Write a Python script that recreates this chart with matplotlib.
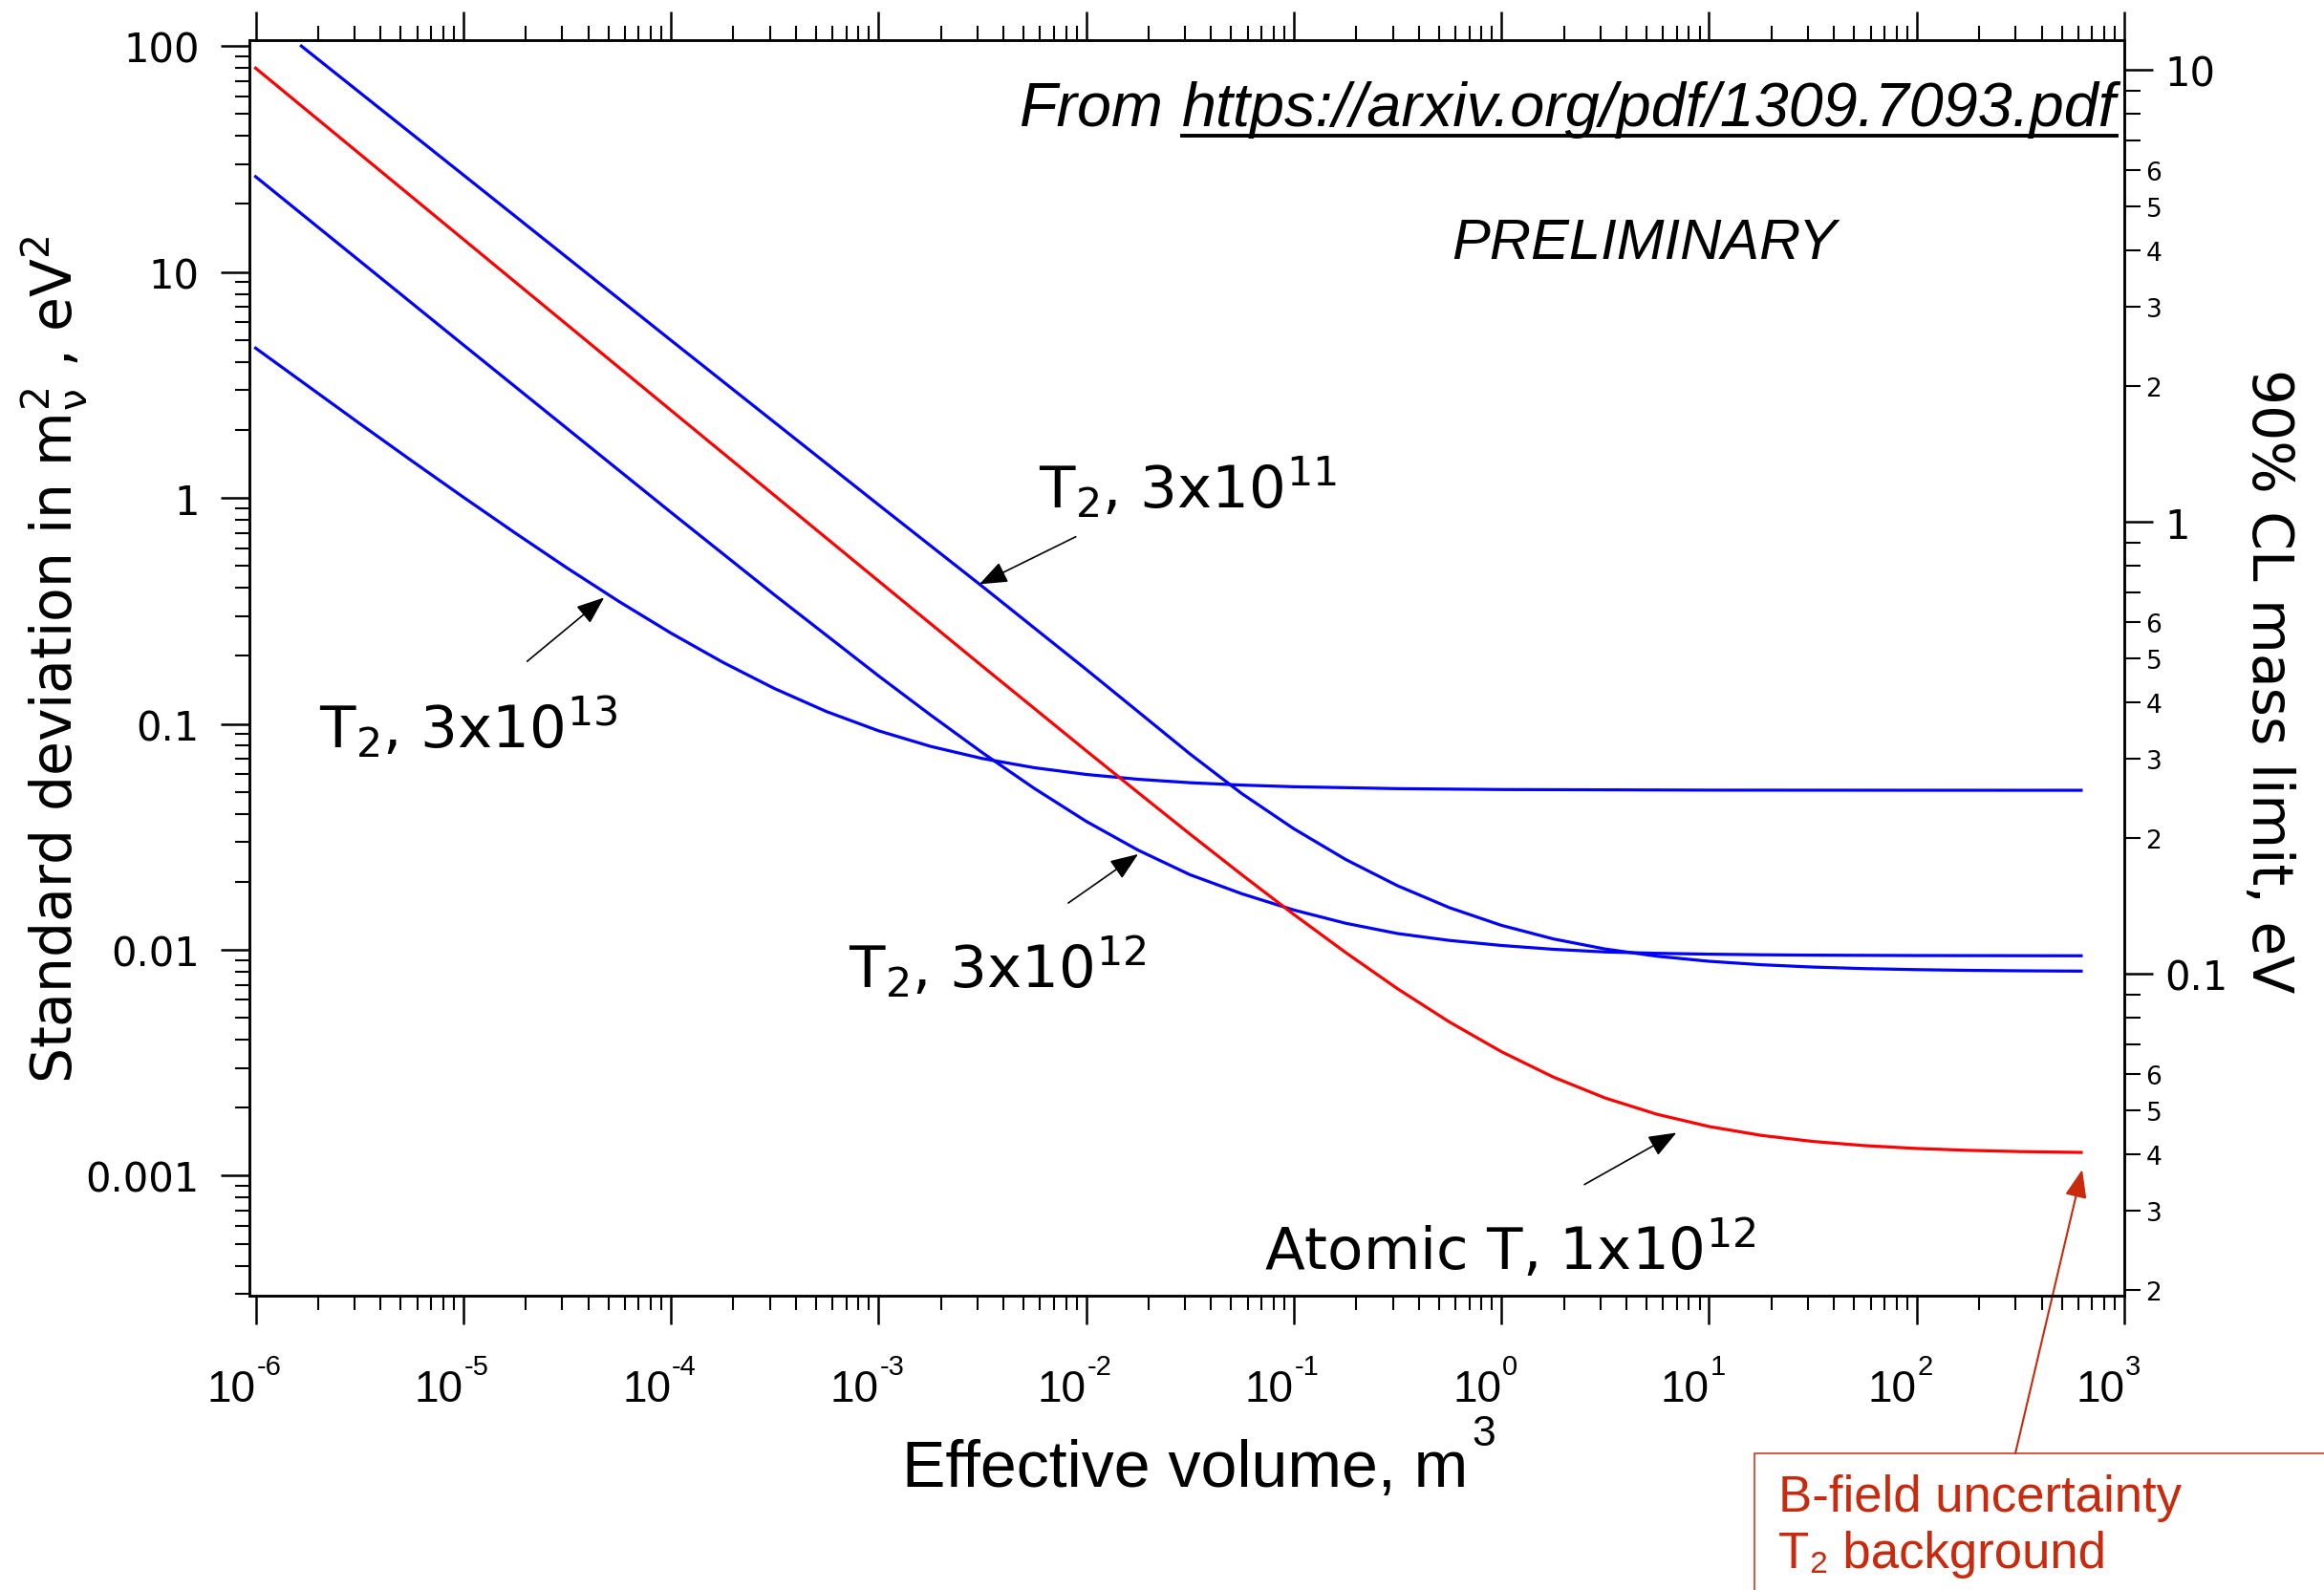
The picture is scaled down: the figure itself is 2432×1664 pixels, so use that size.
import numpy as np
import matplotlib
matplotlib.use("Agg")
import matplotlib.pyplot as plt
from matplotlib.ticker import FixedLocator, FixedFormatter, NullFormatter, FuncFormatter
from matplotlib.patches import Rectangle
from matplotlib.lines import Line2D

# =====================
# data (effective volume m^3, sigma(m^2) eV^2)
# =====================
V_t11 = [1.66e-6, 1e-5, 1e-4, 1e-3, 3.16e-3, 1e-2, 1.78e-2, 3.16e-2, 5.62e-2, 0.1,
         0.178, 0.316, 0.562, 1.0, 1.78, 3.16, 5.62, 10, 17.8, 31.6,
         56.2, 100, 178, 316, 620]
sig_t11 = [100.0, 26.90, 4.986, 0.9323, 0.4059, 0.1742, 0.1132, 0.07365, 0.04912, 0.03435,
           0.02509, 0.01921, 0.01536, 0.01283, 0.01117, 0.01008, 0.009364, 0.008895, 0.008587, 0.008385,
           0.008253, 0.008166, 0.008109, 0.008071, 0.008044]

V_t12 = [1e-6, 1e-5, 1e-4, 3.16e-4, 1e-3, 1.78e-3, 3.16e-3, 5.62e-3, 1e-2, 1.78e-2,
         3.16e-2, 5.62e-2, 0.1, 0.178, 0.316, 0.562, 1.0, 1.78, 3.16, 5.62,
         10, 17.8, 31.6, 100, 620]
sig_t12 = [26.41, 4.759, 0.8636, 0.3717, 0.1631, 0.1095, 0.07459, 0.05184, 0.03704, 0.02760,
           0.02150, 0.0177, 0.0150, 0.0131, 0.0118, 0.0110, 0.01045, 0.01005, 0.009779, 0.009647,
           0.009561, 0.009505, 0.009468, 0.009429, 0.009407]

V_t13 = [1e-6, 1.78e-6, 3.16e-6, 5.62e-6, 1e-5, 1.78e-5, 3.16e-5, 5.62e-5, 1e-4, 1.78e-4,
         3.16e-4, 5.62e-4, 1e-3, 1.78e-3, 3.16e-3, 5.62e-3, 1e-2, 1.78e-2, 3.16e-2, 5.62e-2,
         0.1, 0.316, 1.0, 10, 100, 620]
sig_t13 = [4.601, 3.134, 2.138, 1.464, 1.008, 0.6989, 0.4897, 0.3481, 0.2522, 0.1872,
           0.1432, 0.1133, 0.09316, 0.07949, 0.07023, 0.06396, 0.05971, 0.05684, 0.05489, 0.05357,
           0.05268, 0.05166, 0.05119, 0.05088, 0.05082, 0.0508]

V_atomic = [1e-6, 1e-5, 1e-4, 1e-3, 3.16e-3, 1e-2, 1.78e-2, 3.16e-2, 5.62e-2, 0.1,
            0.178, 0.316, 0.562, 1.0, 1.78, 3.16, 5.62, 10, 17.8, 31.6,
            56.2, 100, 178, 316, 620]
sig_atomic = [79.8, 13.96, 2.443, 0.4289, 0.1801, 0.07607, 0.04963, 0.03254, 0.02149, 0.01434,
              0.009719, 0.006725, 0.004791, 0.003541, 0.002732, 0.002208, 0.001870, 0.001651, 0.001509, 0.001418,
              0.001359, 0.001320, 0.001295, 0.001279, 0.001268]

x_decades = [-6, -5, -4, -3, -2, -1, 0, 1, 2, 3]
y_major = [1e-3, 1e-2, 1e-1, 1, 10, 100]
y_major_labels = ["0.001", "0.01", "0.1", "1", "10", "100"]
m_major = [0.1, 1, 10]
m_major_labels = ["0.1", "1", "10"]
CL_FACTOR = 1.28  # m^2 limit = 1.28 sigma

NARROW = ["Liberation Sans Narrow", "Liberation Sans", "DejaVu Sans"]
ARIAL = ["Liberation Sans", "DejaVu Sans"]
BLUE = "#0000ff"
RED = "#ff0000"
NOTE_RED = "#c82a0e"

W, H = 2432, 1665
PT = 100 / 72.0  # px per point

# =====================
# figure / axes
# =====================
fig = plt.figure(figsize=(W / 100, H / 100), dpi=100)
ax = fig.add_axes([261 / W, 1 - 1357 / H, (2223 - 261) / W, (1357 - 43) / H])
ax.set_xscale("log")
ax.set_yscale("log")
xlo, xhi = 10 ** -6.03, 1e3
ylo, yhi = 10 ** -3.531, 10 ** 2.026
ax.set_xlim(xlo, xhi)
ax.set_ylim(ylo, yhi)

for s in ax.spines.values():
    s.set_linewidth(1.8)

ax.xaxis.set_major_locator(FixedLocator([10.0 ** e for e in x_decades]))
ax.xaxis.set_minor_locator(FixedLocator([m * 10.0 ** e for e in x_decades[:-1] for m in range(2, 10)]))
ax.xaxis.set_major_formatter(NullFormatter())
ax.xaxis.set_minor_formatter(NullFormatter())
ax.tick_params(axis="x", which="both", direction="out", top=True, bottom=True, labelbottom=False)
ax.tick_params(axis="x", which="major", length=30 / PT, width=1.8)
ax.tick_params(axis="x", which="minor", length=15 / PT, width=1.5)

ax.yaxis.set_major_locator(FixedLocator(y_major))
ax.yaxis.set_major_formatter(FixedFormatter(y_major_labels))
ax.yaxis.set_minor_locator(FixedLocator([m * 10.0 ** e for e in range(-4, 2) for m in range(2, 10)]))
ax.yaxis.set_minor_formatter(NullFormatter())
ax.tick_params(axis="y", which="both", direction="out", left=True, right=False)
ax.tick_params(axis="y", which="major", length=30 / PT, width=1.8, labelsize=30, pad=16)
ax.tick_params(axis="y", which="minor", length=15 / PT, width=1.5)

# x tick labels as "10" + raised exponent
for e in x_decades:
    ax.annotate("10", xy=(10.0 ** e, 0), xycoords=("data", "axes fraction"),
                xytext=(0, -110 / PT), textcoords="offset points",
                ha="right", va="baseline", fontsize=33, family=NARROW)
    ax.annotate(str(e), xy=(10.0 ** e, 0), xycoords=("data", "axes fraction"),
                xytext=(1 / PT, -82 / PT), textcoords="offset points",
                ha="left", va="baseline", fontsize=21, family=NARROW)

# right axis: 90% CL mass limit
ax2 = ax.twinx()
ax2.set_yscale("log")
ax2.set_ylim(np.sqrt(CL_FACTOR * ylo), np.sqrt(CL_FACTOR * yhi))
for s in ax2.spines.values():
    s.set_linewidth(1.8)
ax2.yaxis.set_major_locator(FixedLocator(m_major))
ax2.yaxis.set_major_formatter(FixedFormatter(m_major_labels))
ax2.yaxis.set_minor_locator(FixedLocator([m * 10.0 ** e for e in (-2, -1, 0) for m in range(2, 10)]))


def minor_fmt(v, pos):
    m = int(round(v / 10 ** np.floor(np.log10(v) + 1e-9)))
    return str(m) if 2 <= m <= 6 else ""


ax2.yaxis.set_minor_formatter(FuncFormatter(minor_fmt))
ax2.tick_params(axis="y", which="both", direction="out")
ax2.tick_params(axis="y", which="major", length=30 / PT, width=1.8, labelsize=30, pad=9)
ax2.tick_params(axis="y", which="minor", length=17 / PT, width=1.5, labelsize=19, pad=4)

# =====================
# curves
# =====================
ax.plot(V_t11, sig_t11, color=BLUE, lw=2.3)
ax.plot(V_t12, sig_t12, color=BLUE, lw=2.3)
ax.plot(V_t13, sig_t13, color=BLUE, lw=2.3)
ax.plot(V_atomic, sig_atomic, color=RED, lw=2.3)

# =====================
# curve labels + arrows
# =====================
lab_kw = dict(ha="left", va="baseline", fontsize=44)
ax.text(5.9e-3, 0.911, r"T$_2$, 3x10$^{11}$", **lab_kw)
ax.text(2.03e-6, 0.0787, r"T$_2$, 3x10$^{13}$", **lab_kw)
ax.text(7.2e-4, 0.00681, r"T$_2$, 3x10$^{12}$", **lab_kw)
ax.text(0.0719, 3.86e-4, r"Atomic T, 1x10$^{12}$", **lab_kw)

arr = dict(arrowstyle="-|>,head_length=0.9,head_width=0.35", color="black",
           lw=1.2, shrinkA=0, shrinkB=0, mutation_scale=20)
ax.annotate("", xy=(3.06e-3, 0.415), xytext=(8.91e-3, 0.673), arrowprops=arr)
ax.annotate("", xy=(4.77e-5, 0.362), xytext=(2.03e-5, 0.189), arrowprops=arr)
ax.annotate("", xy=(0.0178, 0.0265), xytext=(8.2e-3, 0.0161), arrowprops=arr)
ax.annotate("", xy=(6.97, 1.55e-3), xytext=(2.51, 9.14e-4), arrowprops=arr)

# =====================
# axis titles
# =====================
fig.text(57 / W, 1 - 690 / H, r"Standard deviation in $\mathregular{m_\nu^2}$ , eV$^2$",
         rotation=90, ha="center", va="center", fontsize=42)
fig.text(2373 / W, 1 - 713 / H, "90% CL mass limit, eV",
         rotation=-90, ha="center", va="center", fontsize=42)
fig.text(1536 / W, 1 - 1556 / H, "Effective volume, m", ha="right", va="baseline",
         fontsize=49, family=ARIAL)
fig.text(1540 / W, 1 - 1481 / H, "3", ha="left", va="top", fontsize=32, family=ARIAL)

# =====================
# source note
# =====================
url = fig.text(2215 / W, 1 - 132 / H, "https://arxiv.org/pdf/1309.7093.pdf",
               ha="right", va="baseline", fontsize=46.5, style="italic", family=ARIAL)
fig.canvas.draw()
bb = url.get_window_extent(fig.canvas.get_renderer())
fig.text((bb.x0 - 20) / W, 1 - 132 / H, "From", ha="right", va="baseline",
         fontsize=46.5, style="italic", family=ARIAL)
fig.add_artist(Line2D([bb.x0 / W, bb.x1 / W], [1 - 143 / H, 1 - 143 / H],
                      transform=fig.transFigure, color="black", lw=2.8))
fig.text(1721 / W, 1 - 271 / H, "PRELIMINARY", ha="center", va="baseline",
         fontsize=43, style="italic", family=NARROW)

# =====================
# red note box
# =====================
fig.add_artist(Rectangle((1836 / W, -0.05), 0.3, 1 - 1522 / H + 0.05,
                         transform=fig.transFigure, fill=False,
                         edgecolor=NOTE_RED, lw=1.1, clip_on=False))
fig.text(1861 / W, 1 - 1582 / H, "B-field uncertainty", ha="left", va="baseline",
         fontsize=38, color=NOTE_RED, family=ARIAL)
fig.text(1861 / W, 1 - 1641 / H, "T\u2082 background", ha="left", va="baseline",
         fontsize=38, color=NOTE_RED, family=ARIAL)
ax.annotate("", xy=(2179, H - 1225), xycoords="figure pixels",
            xytext=(2109, H - 1522), textcoords="figure pixels",
            arrowprops=dict(arrowstyle="-|>,head_length=0.9,head_width=0.35",
                            color=NOTE_RED, lw=1.5, shrinkA=0, shrinkB=0,
                            mutation_scale=20),
            annotation_clip=False)

fig.savefig("out.png", dpi=100)
